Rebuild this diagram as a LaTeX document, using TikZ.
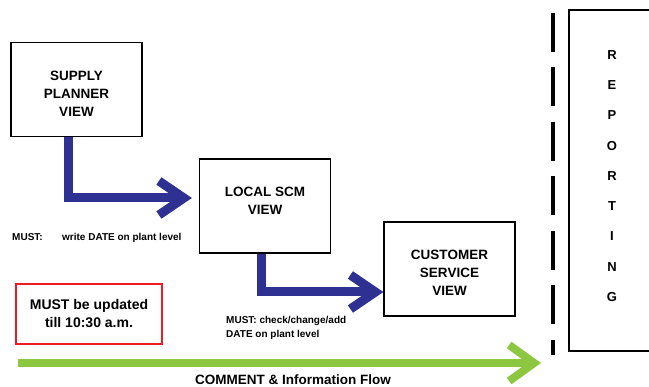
\documentclass[tikz,border=0pt]{standalone}
\usepackage{fontspec}
\setmainfont{Liberation Sans}
\usetikzlibrary{arrows.meta,positioning}
\definecolor{flownavy}{RGB}{46,49,146}
\definecolor{flowgreen}{RGB}{141,198,63}
\definecolor{deadred}{RGB}{237,28,36}

\begin{document}
\begin{tikzpicture}[x=1pt,y=-1pt,
    viewbox/.style={draw,line width=1.2pt,minimum width=131pt,minimum height=94pt,
        align=center,font=\bfseries\fontsize{13.5}{18}\selectfont},
    navyflow/.style={flownavy,line width=9pt,
        -{Straight Barb[length=25pt,width=34pt]}},
    greenflow/.style={flowgreen,line width=8pt,
        -{Straight Barb[length=25pt,width=36pt]}},
    note/.style={font=\bfseries\fontsize{10}{14}\selectfont,inner sep=0pt},
    letter/.style={font=\bfseries\fontsize{13}{13}\selectfont,inner sep=0pt}]
    \clip (0,0) rectangle (649,387);
    % Views
    \node[viewbox] (supply) at (76.5,89.5) {\rule{0pt}{18pt}SUPPLY\\PLANNER\\VIEW};
    \node[viewbox] (local) at (265,206) {LOCAL SCM\\VIEW\rule[-10pt]{0pt}{10pt}};
    \node[viewbox] (customer) at (449.5,269) {\rule{0pt}{18pt}CUSTOMER\\SERVICE\\VIEW};
    % Flow between views
    \draw[navyflow,shorten >=7pt] ([xshift=-8.5pt]supply.south) |- ([yshift=8pt]local.west);
    \draw[navyflow] ([xshift=-4pt]local.south) |- ([yshift=-23pt]customer.west);
    % Notes
    \node[note,anchor=base west] (mustA) at (12,240.5) {MUST:};
    \node[note,anchor=base west] (noteA) at (62,240.5) {write DATE on plant level};
    \node[note,anchor=north west,align=left] (noteB) at (226,316)
        {MUST: check/change/add\\DATE on plant level};
    % Deadline
    \node[draw=deadred,line width=2.5pt,minimum width=146pt,minimum height=60pt,
        align=center,font=\bfseries\fontsize{14}{18}\selectfont]
        (deadline) at (89,314) {MUST be updated\\till 10:30 a.m.};
    % Information flow
    \coordinate (flowstart) at (18,363);
    \coordinate (flowend) at (541,363);
    \draw[greenflow] (flowstart) -- (flowend);
    \node[anchor=base west,inner sep=0pt,font=\bfseries\fontsize{13.5}{16}\selectfont]
        (flowlabel) at (195,385) {COMMENT \& Information Flow};
    % Reporting
    \coordinate (divtop) at (553,13);
    \coordinate (divbottom) at (553,355);
    \draw[line width=4pt,dash pattern=on 39pt off 15.5pt] (divtop) -- (divbottom);
    \node[draw,line width=1.2pt,minimum width=100pt,minimum height=341pt] (reporting) at (619,180.5) {};
    \foreach \ch [count=\i from 0] in {R,E,P,O,R,T,I,N,G}
        \node[letter] (rep\i) at (612,55+30.25*\i) {\ch};
\end{tikzpicture}
\end{document}
